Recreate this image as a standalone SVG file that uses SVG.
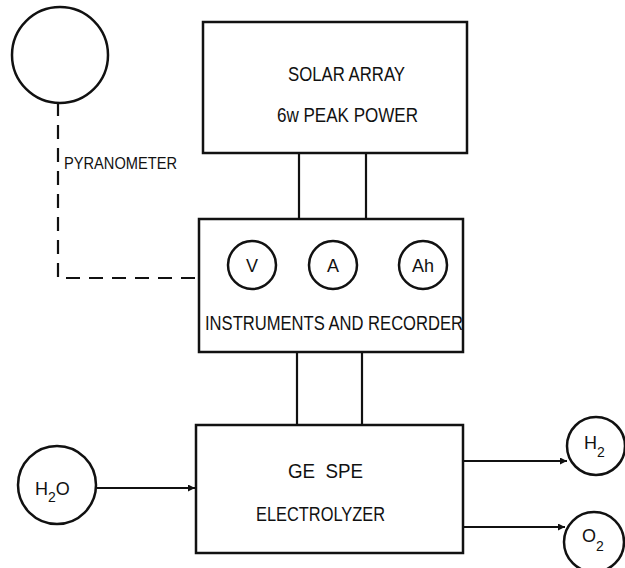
<svg xmlns="http://www.w3.org/2000/svg" width="625" height="568" viewBox="0 0 625 568">
<style>
.box{fill:none;stroke:#111;stroke-width:2.5}
.ln{fill:none;stroke:#111;stroke-width:2.2}
.dash{fill:none;stroke:#111;stroke-width:2.2;stroke-dasharray:14 9}
text{font-family:"Liberation Sans","DejaVu Sans",sans-serif;fill:#111}
.big{font-size:20px}
.mid{font-size:18px}
.sm{font-size:17px}
.sub{font-size:14px}
</style>
<defs>
<marker id="ah" viewBox="0 0 10 10" refX="10" refY="5" markerWidth="9" markerHeight="7" markerUnits="userSpaceOnUse" orient="auto">
<path d="M0,0 L10,5 L0,10 z" fill="#111"/>
</marker>
</defs>
<rect width="625" height="568" fill="#fff"/>
<g id="connectors">
<path class="dash" d="M58,102 V278 H197"/>
<line class="ln" x1="299" y1="153" x2="299" y2="219"/>
<line class="ln" x1="366" y1="153" x2="366" y2="219"/>
<line class="ln" x1="297" y1="352" x2="297" y2="425"/>
<line class="ln" x1="362" y1="352" x2="362" y2="425"/>
<line class="ln" x1="97" y1="488" x2="195" y2="488" marker-end="url(#ah)"/>
<line class="ln" x1="463" y1="461" x2="567" y2="461" marker-end="url(#ah)"/>
<line class="ln" x1="463" y1="527" x2="565" y2="527" marker-end="url(#ah)"/>
</g>
<g id="pyranometer">
<circle class="box" cx="60" cy="55" r="48"/>
<text class="sm" x="64" y="169" textLength="113" lengthAdjust="spacingAndGlyphs">PYRANOMETER</text>
</g>
<g id="solar-array">
<rect class="box" x="203" y="22" width="264" height="131"/>
<text class="big" x="288" y="81" textLength="117" lengthAdjust="spacingAndGlyphs">SOLAR ARRAY</text>
<text class="big" x="277" y="122" textLength="141" lengthAdjust="spacingAndGlyphs">6w PEAK POWER</text>
</g>
<g id="instruments">
<rect class="box" x="199" y="219" width="264" height="133"/>
<circle class="box" cx="252" cy="265" r="24"/>
<circle class="box" cx="333" cy="265" r="24"/>
<circle class="box" cx="423" cy="265" r="24"/>
<text class="mid" x="252" y="272" text-anchor="middle">V</text>
<text class="mid" x="333" y="272" text-anchor="middle">A</text>
<text class="mid" x="423" y="272" text-anchor="middle" textLength="22" lengthAdjust="spacingAndGlyphs">Ah</text>
<text class="big" x="205" y="330" textLength="258" lengthAdjust="spacingAndGlyphs">INSTRUMENTS AND RECORDER</text>
</g>
<g id="electrolyzer">
<rect class="box" x="196" y="425" width="267" height="128"/>
<text class="big" x="288" y="478" textLength="75" lengthAdjust="spacingAndGlyphs">GE&#160;&#160;SPE</text>
<text class="big" x="256" y="521" textLength="129" lengthAdjust="spacingAndGlyphs">ELECTROLYZER</text>
</g>
<g id="h2o">
<circle class="box" cx="57" cy="485" r="39"/>
<text class="mid" x="35" y="495">H<tspan class="sub" dy="7">2</tspan><tspan dy="-7">O</tspan></text>
</g>
<g id="h2">
<circle class="box" cx="596" cy="446" r="29"/>
<text class="mid" x="584" y="449">H<tspan class="sub" dy="8">2</tspan></text>
</g>
<g id="o2">
<circle class="box" cx="594" cy="542" r="30"/>
<text class="mid" x="582" y="542">O<tspan class="sub" dy="9">2</tspan></text>
</g>
</svg>
